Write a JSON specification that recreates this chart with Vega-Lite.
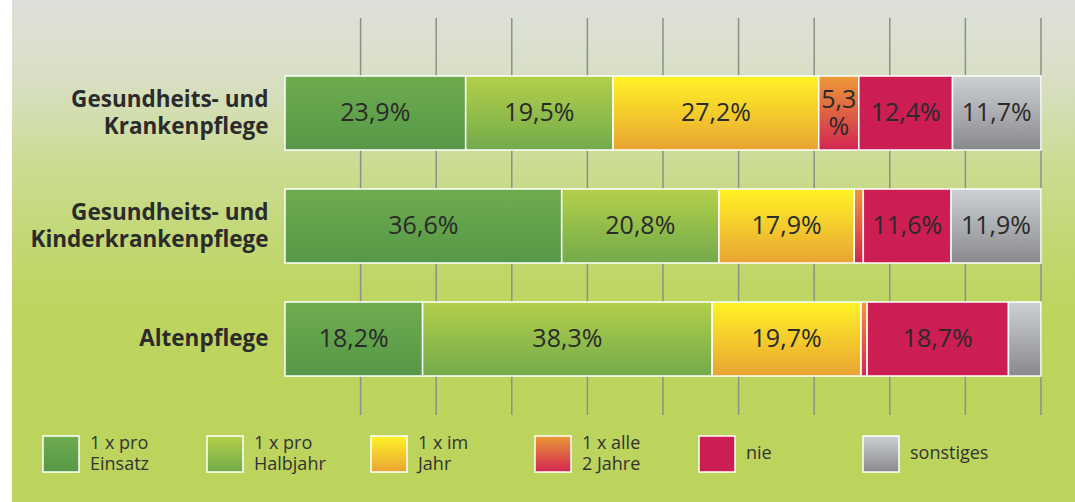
{
  "$schema": "https://vega.github.io/schema/vega-lite/v6.json",
  "width": 1075,
  "height": 502,
  "autosize": {"type": "fit", "contains": "padding"},
  "padding": {"left": 12, "top": 0, "right": 0, "bottom": 0},
  "background": "#ffffff",
  "view": {
    "stroke": null,
    "fill": {"gradient": "linear", "x1": 0, "y1": 0, "x2": 0, "y2": 1, "stops": [
      {"offset": 0, "color": "#dee1db"},
      {"offset": 0.15, "color": "#d9dfc6"},
      {"offset": 0.33, "color": "#cbdc92"},
      {"offset": 0.5, "color": "#c1d770"},
      {"offset": 0.62, "color": "#bdd55e"},
      {"offset": 1, "color": "#bcd45c"}
    ]}
  },
  "config": {"font": "Open Sans"},
  "datasets": {
    "bars": [
      {"category": "Gesundheits- und Krankenpflege", "series": "1 x pro Einsatz", "value": 23.9},
      {"category": "Gesundheits- und Krankenpflege", "series": "1 x pro Halbjahr", "value": 19.5},
      {"category": "Gesundheits- und Krankenpflege", "series": "1 x im Jahr", "value": 27.2},
      {"category": "Gesundheits- und Krankenpflege", "series": "1 x alle 2 Jahre", "value": 5.3},
      {"category": "Gesundheits- und Krankenpflege", "series": "nie", "value": 12.4},
      {"category": "Gesundheits- und Krankenpflege", "series": "sonstiges", "value": 11.7},
      {"category": "Gesundheits- und Kinderkrankenpflege", "series": "1 x pro Einsatz", "value": 36.6},
      {"category": "Gesundheits- und Kinderkrankenpflege", "series": "1 x pro Halbjahr", "value": 20.8},
      {"category": "Gesundheits- und Kinderkrankenpflege", "series": "1 x im Jahr", "value": 17.9},
      {"category": "Gesundheits- und Kinderkrankenpflege", "series": "1 x alle 2 Jahre", "value": 1.2},
      {"category": "Gesundheits- und Kinderkrankenpflege", "series": "nie", "value": 11.6},
      {"category": "Gesundheits- und Kinderkrankenpflege", "series": "sonstiges", "value": 11.9},
      {"category": "Altenpflege", "series": "1 x pro Einsatz", "value": 18.2},
      {"category": "Altenpflege", "series": "1 x pro Halbjahr", "value": 38.3},
      {"category": "Altenpflege", "series": "1 x im Jahr", "value": 19.7},
      {"category": "Altenpflege", "series": "1 x alle 2 Jahre", "value": 0.8},
      {"category": "Altenpflege", "series": "nie", "value": 18.7},
      {"category": "Altenpflege", "series": "sonstiges", "value": 4.3}
    ],
    "grid": [
      {"g": 10}, {"g": 20}, {"g": 30}, {"g": 40}, {"g": 50},
      {"g": 60}, {"g": 70}, {"g": 80}, {"g": 90}, {"g": 100}
    ]
  },
  "resolve": {"scale": {"y": "independent"}, "axis": {"y": "independent"}},
  "layer": [
    {
      "data": {"name": "grid"},
      "mark": {"type": "rule", "color": "#8c9088", "strokeWidth": 1.5},
      "encoding": {
        "x": {"field": "g", "type": "quantitative", "axis": null, "scale": {"domain": [-36.11, 104.5], "nice": false, "zero": false}},
        "y": {"datum": 0, "type": "quantitative", "axis": null, "scale": {"domain": [-0.2191, 1.0453], "nice": false, "zero": false}},
        "y2": {"datum": 1}
      }
    },
    {
      "data": {"name": "bars"},
      "transform": [
        {"calculate": "indexof(['1 x pro Einsatz','1 x pro Halbjahr','1 x im Jahr','1 x alle 2 Jahre','nie','sonstiges'], datum.series)", "as": "o"},
        {"stack": "value", "groupby": ["category"], "sort": [{"field": "o", "order": "ascending"}], "as": ["x0", "x1"]},
        {"calculate": "(datum.x0 + datum.x1) / 2", "as": "mid"},
        {"calculate": "replace(format(datum.value, '.1f'), '.', ',')", "as": "num"}
      ],
      "layer": [
        {
          "mark": {"type": "bar", "stroke": "#ffffff", "strokeWidth": 1.5},
          "encoding": {
            "y": {
              "field": "category", "type": "nominal", "title": null,
              "scale": {"domain": ["Gesundheits- und Krankenpflege", "Gesundheits- und Kinderkrankenpflege", "Altenpflege"], "paddingInner": 0.345, "paddingOuter": 0.894, "align": 0.376},
              "axis": {
                "offset": -270, "labelPadding": 14, "ticks": false, "domain": false, "grid": false,
                "labelFontSize": 22.5, "labelFontWeight": "bold", "labelColor": "#2b2b2b",
                "labelLineHeight": 27, "labelLimit": 400, "labelFont": "Open Sans",
                "labelOffset": {"condition": {"test": "indexof(datum.value, ' und ') > 0", "value": -13}, "value": 0},
                "labelExpr": "indexof(datum.label, ' und ') > 0 ? [slice(datum.label, 0, indexof(datum.label, ' und ') + 4), slice(datum.label, indexof(datum.label, ' und ') + 5)] : datum.label"
              }
            },
            "x": {"field": "x0", "type": "quantitative", "axis": null},
            "x2": {"field": "x1"},
            "fill": {
              "field": "series", "type": "nominal",
              "scale": {
                "domain": ["1 x pro Einsatz", "1 x pro Halbjahr", "1 x im Jahr", "1 x alle 2 Jahre", "nie", "sonstiges"],
                "range": [
                  {"expr": "{gradient: 'linear', x1: 0, y1: 0, x2: 0, y2: 1, stops: [{offset: 0, color: '#6eac4f'}, {offset: 1, color: '#569848'}]}"},
                  {"expr": "{gradient: 'linear', x1: 0, y1: 0, x2: 0, y2: 1, stops: [{offset: 0, color: '#b3d04a'}, {offset: 1, color: '#73aa4b'}]}"},
                  {"expr": "{gradient: 'linear', x1: 0, y1: 0, x2: 0, y2: 1, stops: [{offset: 0, color: '#fff326'}, {offset: 1, color: '#e9a433'}]}"},
                  {"expr": "{gradient: 'linear', x1: 0, y1: 0, x2: 0, y2: 1, stops: [{offset: 0, color: '#eb9a37'}, {offset: 1, color: '#d22651'}]}"},
                  "#cc1e52",
                  {"expr": "{gradient: 'linear', x1: 0, y1: 0, x2: 0, y2: 1, stops: [{offset: 0, color: '#ced1d4'}, {offset: 1, color: '#88898c'}]}"}
                ]
              },
              "legend": {
                "orient": "none", "legendX": 30, "legendY": 435, "direction": "horizontal", "columns": 6,
                "gridAlign": "all", "columnPadding": 35, "padding": 0, "title": null,
                "symbolType": "square", "symbolSize": 1296, "symbolStrokeColor": "#ffffff", "symbolStrokeWidth": 1.5, "symbolOpacity": 1,
                "labelFontSize": 18, "labelColor": "#333333", "labelOffset": 10, "labelLimit": 200, "labelFont": "Open Sans",
                "labelExpr": "length(split(datum.label, ' ')) > 3 ? [join(slice(split(datum.label, ' '), 0, 3), ' '), join(slice(split(datum.label, ' '), 3), ' ')] : datum.label",
                "encode": {"labels": {"update": {"dy": {"signal": "length(split(datum.value, ' ')) > 3 ? -10 : 0"}, "lineHeight": {"value": 21}}}}
              }
            }
          }
        },
        {
          "transform": [
            {"filter": "datum.value >= 8"},
            {"calculate": "datum.num + '%'", "as": "lab"}
          ],
          "mark": {"type": "text", "fontSize": 25, "color": "#2a2a2a", "baseline": "middle", "align": "center", "font": "Open Sans"},
          "encoding": {
            "y": {"field": "category", "type": "nominal"},
            "x": {"field": "mid", "type": "quantitative"},
            "text": {"field": "lab", "type": "nominal"}
          }
        },
        {
          "transform": [
            {"filter": "datum.value >= 5 && datum.value < 8"},
            {"calculate": "datum.num + '|%'", "as": "lab"}
          ],
          "mark": {"type": "text", "fontSize": 25, "color": "#2a2a2a", "baseline": "middle", "align": "center", "font": "Open Sans", "lineBreak": "|", "lineHeight": 27, "dy": -13},
          "encoding": {
            "y": {"field": "category", "type": "nominal"},
            "x": {"field": "mid", "type": "quantitative"},
            "text": {"field": "lab", "type": "nominal"}
          }
        }
      ]
    }
  ]
}
